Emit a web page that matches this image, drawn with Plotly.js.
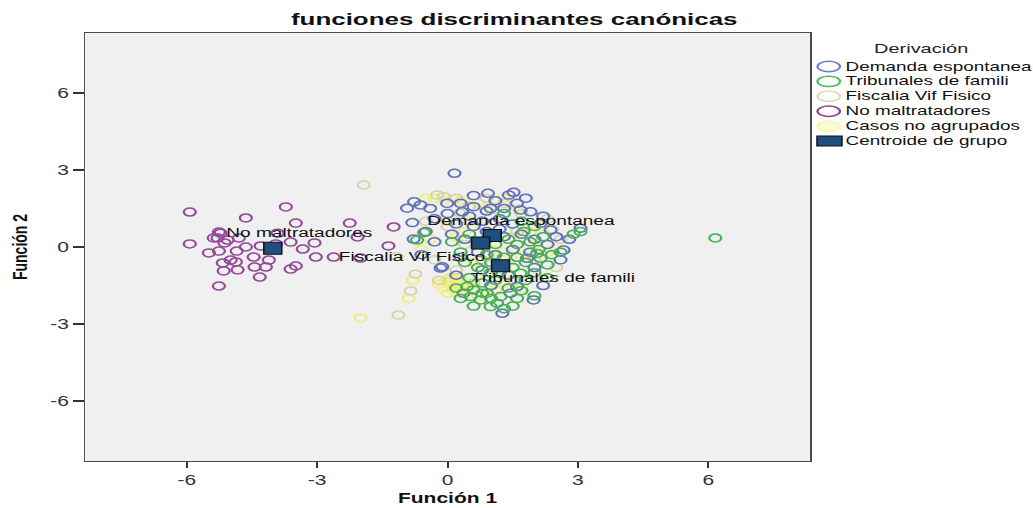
<!DOCTYPE html>
<html><head><meta charset="utf-8">
<script src="https://cdn.plot.ly/plotly-3.0.1.min.js"></script>
<style>
html,body{margin:0;padding:0;background:#fff;overflow:hidden;}
#wrap{width:1033px;height:508px;overflow:hidden;}
#chart{width:689px;height:508px;transform:scaleX(1.49927);transform-origin:0 0;}
</style></head><body><div id="wrap"><div id="chart"></div></div>
<script>
// ---------------- data ----------------
const seriesNames = ['Demanda espontanea','Tribunales de famili','Fiscalia Vif Fisico','No maltratadores','Casos no agrupados','Centroide de grupo'];
const xTicks = [-6,-3,0,3,6];
const yTicks = [-6,-3,0,3,6];

const demandaX = [0.16,1.52,1.41,0.93,-0.77,-0.62,-0.93,-0.01,0.30,0.60,-0.81,0.34,0.99,1.68,1.91,2.14,2.37,2.67,3.06,-0.12,1.83,1.26,1.98,1.45,0.37,1.60,
  0.5,0.8,1.2,1.5,0.2,0.9,1.3,1.7,2.0,0.4,0.1,-0.3,-0.5,0.7,1.1,1.5,2.3,2.5,2.8,0.3,-0.3,0.6,1.1,1.8,1.3,2.2,0.0,-0.4,0.8,1.4,2.0,0.2,1.0,2.2,0.6,1.9,2.6,-0.6,1.2,1.6,0.9,-0.78,-0.16];
const demandaY = [2.87,2.13,2.02,2.09,1.76,1.63,1.51,1.70,1.70,1.57,0.95,1.37,1.50,1.44,1.37,0.92,0.66,-0.12,0.73,-0.77,-0.44,-2.58,-2.06,-1.80,-1.80,-1.54,
  1.2,1.0,1.1,0.9,0.9,0.6,0.4,0.5,0.3,0.3,0.5,1.1,0.6,-0.2,-0.3,-0.1,0.1,0.4,0.3,-0.4,0.2,2.0,1.8,1.9,1.5,1.2,1.3,1.5,-0.9,-1.1,-0.8,-1.1,-1.5,-1.5,0.8,-0.2,-0.5,-0.3,0.7,1.7,1.4,0.31,-0.82];

const tribunalesX = [-0.54,-0.70,3.06,1.75,2.06,2.14,0.60,0.91,0.53,0.76,1.14,1.22,0.99,0.45,1.68,6.16,
  1.3,1.0,1.6,0.3,0.8,1.1,1.4,1.8,2.0,2.3,2.1,1.9,1.6,1.3,1.0,0.7,0.4,1.5,1.8,2.4,2.2,1.4,1.1,0.9,0.5,1.2,0.2,1.7,2.0,1.5,0.6,0.1,0.5,1.7,2.0,1.3,0.9,2.6,2.9,0.3,1.6,2.3,1.0,0.8];
const tribunalesY = [0.56,0.27,0.60,0.60,-0.25,-0.44,-1.67,-1.80,-1.93,-2.06,-2.19,-1.93,-2.32,-1.54,-1.02,0.35,
  -2.4,-2.0,-2.0,-2.0,-1.4,-1.3,-1.6,-1.3,-1.0,-0.7,-0.1,0.2,0.1,-0.4,-0.6,-0.8,-0.6,-0.8,-0.6,-0.3,0.4,0.3,0.1,-0.3,-1.2,-1.0,-1.6,-1.7,-1.9,-2.3,-2.3,0.2,0.5,1.0,0.8,1.3,0.3,-0.2,0.5,-0.2,-0.4,-1.2,-1.0,-1.8];

const fiscaliaX = [-1.93,-1.13,-0.74,-0.85,-1.17,-0.24,-0.09,0.2,0.5,0.9,1.3,1.7,2.3,2.6,0.0,0.4,0.8,1.2,1.6,0.2,-0.3,2.0,1.0,0.6,1.5,2.5,-0.5,0.3,-0.2,2.4];
const fiscaliaY = [2.41,-2.65,-1.06,-1.71,-0.38,2.02,1.96,1.9,1.6,1.9,1.7,1.3,1.1,0.3,0.8,0.1,-0.5,-0.8,0.6,-0.9,-0.5,-0.5,1.2,-1.4,-1.3,-0.8,1.0,1.3,-1.3,0.7];

const noMaltX = [-5.93,-5.93,-5.26,-4.64,-3.72,-3.49,-2.25,-5.26,-5.29,-5.06,-5.13,-4.80,-3.91,-3.61,-3.33,-3.06,-3.03,-2.62,-2.07,-5.49,-5.26,-4.85,-4.64,-4.46,-4.11,-4.99,-5.17,-4.87,-5.15,-4.83,-4.44,-4.18,-3.61,-3.49,-4.32,-5.38,-5.22,-1.24,-1.36,-2.00,-4.30,-3.95];
const noMaltY = [1.36,0.12,-1.52,1.13,1.56,0.93,0.93,0.58,0.35,0.27,0.16,0.35,0.54,0.19,-0.08,0.16,-0.39,-0.39,0.39,-0.23,-0.16,-0.16,0.00,-0.39,-0.51,-0.51,-0.62,-0.58,-0.93,-0.89,-0.78,-0.78,-0.86,-0.74,-1.17,0.35,0.54,0.78,0.04,-0.43,0.04,0.12];

const noAgrupX = [-2.0,0.0,0.1,0.2,0.3,-0.1,0.05,0.25,0.15,0.35,-0.05,0.2,0.1,0.3,0.0,0.4,-0.2,0.5,-0.3,-0.5,-0.1,0.3,0.7,1.0,1.3,1.6,0.5,0.8,1.1,1.5,1.9,2.2,0.4,0.7,1.0,1.3,1.7,2.0,0.6,1.1,1.4,0.9,1.3,1.7,0.7,1.1,-0.4,-0.6,2.3,2.5,0.2,0.0,-0.8,-0.9];
const noAgrupY = [-2.76,-1.4,-1.5,-1.3,-1.6,-1.6,-1.2,-1.8,-1.7,-1.4,-1.35,-1.55,-1.25,-1.25,-1.8,-1.7,-1.45,-1.5,1.9,1.9,1.8,1.8,1.7,1.6,1.9,1.5,1.0,0.8,0.5,0.4,0.6,0.8,0.6,0.2,-0.1,-0.2,-0.3,0.1,-0.6,-0.5,-0.6,-1.1,-1.4,-1.6,-1.9,-1.7,0.3,-0.1,-0.2,0.0,0.4,1.0,-1.3,-2.0];

const centroidX = [1.03,1.22,0.76,-4.02];
const centroidY = [0.45,-0.73,0.16,-0.05];
const centroidLabels = ['Demanda espontanea','Tribunales de famili','Fiscalia Vif Fisico','No maltratadores'];

// ---------------- styles ----------------
const colors = ['#6072bd','#46b052','#d8d2a6','#944a98','#eeee78','#1e4d80'];
const legendColors = ['#6c7ec6','#4fba5c','#ddd8b6','#8e4192','#f6f6b4','#1e4d80'];
const FONT = 'Liberation Sans, Arial, sans-serif';
const W = 689, H = 508, ML = 57, MR = 149, MT = 33, MB = 47;
const PW = W - ML - MR, PH = H - MT - MB, S = 1033 / W;
const pxX = X => (X / S - ML) / PW;      // stretched screen px -> paper x
const pxY = Y => (H - MB - Y) / PH;      // screen px -> paper y

function openTrace(x, y, c) {
  return {type:'scatter', mode:'markers', x:x, y:y, hoverinfo:'x+y',
    marker:{symbol:'circle-open', size:8, color:c, line:{width:1.5, color:c}}};
}
const traces = [
  openTrace(noAgrupX, noAgrupY, colors[4]),
  openTrace(fiscaliaX, fiscaliaY, colors[2]),
  openTrace(demandaX, demandaY, colors[0]),
  openTrace(tribunalesX, tribunalesY, colors[1]),
  openTrace(noMaltX, noMaltY, colors[3]),
  {type:'scatter', mode:'markers', x:centroidX, y:centroidY, text:centroidLabels, hoverinfo:'text',
   marker:{symbol:'square', size:12, color:colors[5], line:{width:1, color:'#111'}}}
];

// centroid labels
const labelStyle = [
  {xanchor:'left', xshift:-45.6, yshift:14.5},
  {xanchor:'left', xshift:-22, yshift:-12.5},
  {xanchor:'right', xshift:5.5, yshift:-14.3},
  {xanchor:'left', xshift:-32.7, yshift:15}
];
const annotations = centroidLabels.map((t, i) => Object.assign({
  x:centroidX[i], y:centroidY[i], xref:'x', yref:'y', text:t, showarrow:false,
  yanchor:'middle', font:{family:FONT, size:12.7, color:'#111'}
}, labelStyle[i]));

// manual legend (SPSS style, tight rows)
const shapes = [];
annotations.push({xref:'paper', yref:'paper', x:pxX(921), y:pxY(48.5), text:'Derivación',
  showarrow:false, xanchor:'center', yanchor:'middle', font:{family:FONT, size:13.3, color:'#222'}});
seriesNames.forEach((n, i) => {
  const yc = 66.5 + i * 14.9;
  annotations.push({xref:'paper', yref:'paper', x:pxX(843), y:pxY(yc), text:n, showarrow:false,
    xanchor:'left', yanchor:'middle', font:{family:FONT, size:12.6, color:'#111'}});
  if (i < 5) {
    shapes.push({type:'circle', xref:'paper', yref:'paper', layer:'above',
      x0:pxX(817.5), x1:pxX(840), y0:pxY(yc + 5.2), y1:pxY(yc - 5.2),
      line:{color:legendColors[i], width:1.5}, fillcolor:i === 4 ? '#fbfbd2' : 'rgba(0,0,0,0)'});
  } else {
    shapes.push({type:'rect', xref:'paper', yref:'paper', layer:'above',
      x0:pxX(817), x1:pxX(842), y0:pxY(yc + 5), y1:pxY(yc - 5),
      line:{color:'#111', width:1}, fillcolor:legendColors[i]});
  }
});

const axisBase = {
  range:[-8.33, 8.33], ticks:'outside', tickwidth:1.3, tickcolor:'#333',
  showline:true, mirror:true, linecolor:'#4a4a4a', linewidth:1.3,
  showgrid:false, zeroline:false, tickfont:{family:FONT, size:14, color:'#333'},
  fixedrange:true
};
const layout = {
  width:W, height:H, margin:{l:ML, r:MR, t:MT, b:MB, pad:0},
  paper_bgcolor:'#ffffff', plot_bgcolor:'#f0f0f0', showlegend:false,
  font:{family:FONT, color:'#222'},
  title:{text:'<b>funciones discriminantes canónicas</b>', font:{family:FONT, size:17.3, color:'#111'},
    xref:'container', x:0.4978, xanchor:'center', yref:'container', y:1 - 19 / H, yanchor:'middle'},
  xaxis:Object.assign({}, axisBase, {tickvals:xTicks, ticktext:xTicks.map(String), ticklen:6,
    title:{text:'<b>Función 1</b>', font:{family:FONT, size:14, color:'#111'}, standoff:6}}),
  yaxis:Object.assign({}, axisBase, {tickvals:yTicks, ticktext:yTicks.map(String), ticklen:7,
    title:{text:'<b>Función 2</b>', font:{family:FONT, size:14, color:'#111'}, standoff:11}}),
  annotations:annotations, shapes:shapes
};
Plotly.newPlot('chart', traces, layout, {displayModeBar:false, staticPlot:true});
</script></body></html>
